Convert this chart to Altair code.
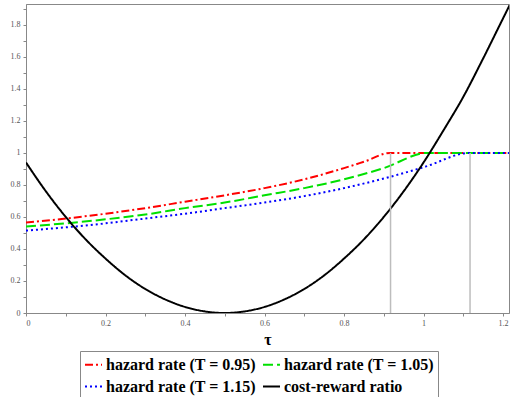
import altair as alt
import pandas as pd

# ---- data ----
series_names = ["hazard rate (T = 0.95)", "hazard rate (T = 1.05)",
                "hazard rate (T = 1.15)", "cost-reward ratio"]
series_colors = ["#ff0000", "#00e000", "#0000ff", "#000000"]

red_tau = [0, 0.1, 0.2, 0.3, 0.4, 0.5, 0.6, 0.7, 0.8, 0.85, 0.917, 1.215]
red_val = [0.565, 0.59, 0.62, 0.655, 0.695, 0.735, 0.78, 0.835, 0.905, 0.945, 1.0, 1.0]

green_tau = [0, 0.1, 0.2, 0.3, 0.4, 0.5, 0.6, 0.7, 0.8, 0.9, 1.01, 1.215]
green_val = [0.54, 0.56, 0.585, 0.615, 0.655, 0.69, 0.735, 0.78, 0.835, 0.905, 1.0, 1.0]

blue_tau = [0, 0.1, 0.2, 0.3, 0.4, 0.5, 0.6, 0.7, 0.8, 0.9, 1.0, 1.117, 1.215]
blue_val = [0.515, 0.535, 0.56, 0.59, 0.62, 0.655, 0.69, 0.73, 0.78, 0.84, 0.91, 1.0, 1.0]

cost_tau = [0, 0.05, 0.1, 0.15, 0.2, 0.25, 0.3, 0.35, 0.4, 0.45, 0.5, 0.55, 0.6,
            0.65, 0.7, 0.75, 0.8, 0.85, 0.9, 0.95, 1.0, 1.05, 1.1, 1.15, 1.2, 1.23]
cost_val = [0.94, 0.76, 0.6, 0.46, 0.34, 0.235, 0.15, 0.085, 0.038, 0.01, 0.0, 0.01, 0.038,
            0.085, 0.15, 0.235, 0.34, 0.46, 0.6, 0.76, 0.94, 1.14, 1.35, 1.59, 1.84, 1.99]

vline_tau = [0.917, 1.117]
vline_top = [1.0, 1.0]

x_ticks = [round(i * 0.1, 1) for i in range(13)]
y_ticks = [round(i * 0.1, 1) for i in range(20)]

# ---- build table ----
rows = []
for name, taus, vals in [(series_names[0], red_tau, red_val),
                         (series_names[1], green_tau, green_val),
                         (series_names[2], blue_tau, blue_val),
                         (series_names[3], cost_tau, cost_val)]:
    for i, (t, v) in enumerate(zip(taus, vals)):
        rows.append({"series": name, "tau": t, "value": v, "order": i})
df = pd.DataFrame(rows)
vdf = pd.DataFrame({"tau": vline_tau, "top": vline_top, "bottom": [0, 0]})

SERIF = "Liberation Serif, Times New Roman, serif"

xscale = alt.Scale(domain=[0, 1.215], nice=False, zero=False)
yscale = alt.Scale(domain=[0, 1.93], nice=False)

label_expr = "(round(datum.value*10) % 2 == 0) ? format(datum.value, '~g') : ''"

xaxis = alt.Axis(values=x_ticks, labelExpr=label_expr, title="τ",
                 titleFont=SERIF, titleFontSize=16,
                 titleFontWeight="bold", titleColor="black",
                 titlePadding=4, labelOverlap=False)
yaxis = alt.Axis(values=y_ticks, labelExpr=label_expr, title=None,
                 labelOverlap=False)

legend = alt.Legend(title=None, columns=2, direction="horizontal")

lines = alt.Chart(df).mark_line(clip=True, interpolate="monotone").encode(
    x=alt.X("tau:Q", scale=xscale, axis=xaxis),
    y=alt.Y("value:Q", scale=yscale, axis=yaxis),
    color=alt.Color("series:N",
                    scale=alt.Scale(domain=series_names, range=series_colors),
                    legend=legend),
    strokeDash=alt.StrokeDash("series:N",
                              scale=alt.Scale(domain=series_names,
                                              range=[[8, 3, 2, 3], [10, 4], [2, 3], [1, 0]]),
                              legend=legend),
    strokeWidth=alt.StrokeWidth("series:N",
                                scale=alt.Scale(domain=series_names, range=[2, 2, 2, 1.6]),
                                legend=None),
    order="order:Q",
)

rules = alt.Chart(vdf).mark_rule(color="#bdbdbd", strokeWidth=1.5).encode(
    x=alt.X("tau:Q", scale=xscale, axis=xaxis),
    y=alt.Y("bottom:Q", scale=yscale, axis=yaxis),
    y2="top:Q",
)

chart = alt.layer(lines, rules).properties(
    width=483, height=309,
    autosize=alt.AutoSizeParams(type="none"),
    padding={"left": 26, "top": 4, "right": 1, "bottom": 84},
).configure_view(
    stroke="#888888", strokeWidth=1
).configure_axis(
    domainColor="#888888", tickColor="#888888", tickSize=3, grid=False,
    labelFont=SERIF, labelFontSize=8, labelColor="#555555",
    labelPadding=3, labelOverlap=False,
).configure_legend(
    orient="none", legendX=54, legendY=347,
    strokeColor="#888888", fillColor="white", padding=4,
    labelFont=SERIF, labelFontSize=16, labelFontWeight="bold",
    labelColor="black", symbolType="stroke", symbolSize=289,
    symbolStrokeWidth=2, columnPadding=3, rowPadding=4, labelOffset=3,
    labelLimit=300,
)

chart.save("out.html", embed_options={"renderer": "svg", "actions": False})
